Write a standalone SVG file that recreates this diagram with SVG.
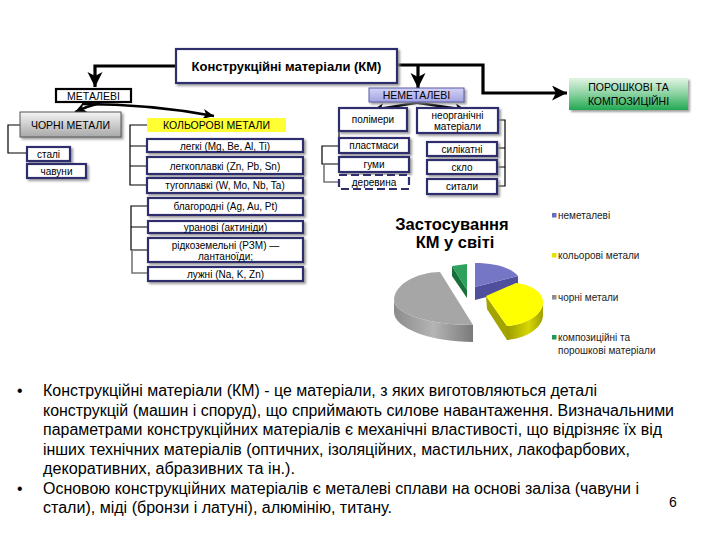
<svg xmlns="http://www.w3.org/2000/svg" width="720" height="540" viewBox="0 0 720 540">
<style>
text{font-family:"Liberation Sans",Arial,sans-serif;fill:#000}
.bx{fill:#fff;stroke:#2f2f6e;stroke-width:2.2}
.sm{font-size:10px;text-anchor:middle}
.cap{font-size:10.5px;text-anchor:middle}
.ln{fill:none;stroke:#000;stroke-width:1.2}
.gl{fill:none;stroke:#777;stroke-width:1.6}
.ar{fill:none;stroke:#000;stroke-width:3.2}
.ar2{fill:none;stroke:#000;stroke-width:2.4}
.body{font-size:15.8px}
.lg{font-size:10px;fill:#222}
</style>
<defs>
<filter id="sh" x="-10%" y="-20%" width="130%" height="160%"><feDropShadow dx="2" dy="2" stdDeviation="1" flood-color="#888" flood-opacity="0.8"/></filter>
<marker id="big" markerUnits="userSpaceOnUse" markerWidth="16" markerHeight="16" refX="15" refY="7.5" orient="auto"><path d="M0,0 L15,7.5 L0,15 L4,7.5 z" fill="#000"/></marker>
<marker id="sml" markerUnits="userSpaceOnUse" markerWidth="12" markerHeight="12" refX="11" refY="5" orient="auto"><path d="M0,0 L11,5 L0,10 L3,5 z" fill="#000"/></marker>
<linearGradient id="gGray" x1="0" y1="0" x2="0" y2="1"><stop offset="0" stop-color="#f4f4f4"/><stop offset="1" stop-color="#a8a8a8"/></linearGradient>
<linearGradient id="gLav" x1="0" y1="0" x2="0" y2="1"><stop offset="0" stop-color="#d4d4f6"/><stop offset="1" stop-color="#a2a2e2"/></linearGradient>
<linearGradient id="gGreen" x1="0" y1="0" x2="0" y2="1"><stop offset="0" stop-color="#e2f4e4"/><stop offset="0.5" stop-color="#8ad2a0"/><stop offset="1" stop-color="#22a852"/></linearGradient>
<linearGradient id="pGraySide" x1="0" y1="0" x2="1" y2="0"><stop offset="0" stop-color="#8c8c8c"/><stop offset="0.5" stop-color="#b4b4b4"/><stop offset="1" stop-color="#7a7a7a"/></linearGradient>
<linearGradient id="pYelSide" x1="0" y1="0" x2="1" y2="0"><stop offset="0" stop-color="#9c9c00"/><stop offset="0.6" stop-color="#d6d600"/><stop offset="1" stop-color="#a0a000"/></linearGradient>
</defs>

<g id="connectors">
<path class="ar" d="M176,66 H95 V87" marker-end="url(#big)"/>
<path class="ar" d="M397,65 H483 V93 H567" marker-end="url(#big)"/>
<path class="ar" d="M418,65 V88" marker-end="url(#big)"/>
<path class="ar2" d="M100,103 Q88,106 75,112" marker-end="url(#sml)"/>
<path class="ar2" d="M82,104 Q150,104 214,116" marker-end="url(#sml)"/>
<path class="ar2" d="M421,102 L373,110" marker-end="url(#sml)"/>
<path class="ar2" d="M412,102 L466,110" marker-end="url(#sml)"/>
<path class="ln" d="M20,125 H8 V153 H27"/>
<path class="ln" d="M147,125 H130 V185 H147 M130,146 H147 M130,166 H147"/>
<path class="ln" d="M148,206 H131 V250 H148 M131,227 H148"/>
<path class="gl" d="M132,250 V273 H148"/>
<path class="ln" d="M339,120 V139 M339,146 H322 V164 H339"/>
<path class="gl" d="M324,164 V182 H339"/>
<path class="ln" d="M498,120 H505 V186 H497 M505,148 H497 M505,167 H497"/>
</g>

<g id="main"><rect class="bx" x="176" y="49" width="221" height="34" filter="url(#sh)"/><text x="286.5" y="71" font-size="13" font-weight="bold" text-anchor="middle">Конструкційні матеріали (КМ)</text></g>
<g id="metalevi"><rect x="56" y="89" width="75" height="13" fill="#fff" stroke="#000" stroke-width="2.2"/><text class="cap" x="93.5" y="99.5">МЕТАЛЕВІ</text></g>
<g id="chorni"><rect x="20" y="112" width="101" height="25" fill="url(#gGray)" stroke="#555" stroke-width="1" filter="url(#sh)"/><text class="cap" x="70.5" y="128.5">ЧОРНІ МЕТАЛИ</text></g>
<g id="kolorovi"><rect x="147" y="118" width="139" height="14" fill="#ffff33"/><text class="cap" x="216.5" y="129">КОЛЬОРОВІ МЕТАЛИ</text></g>
<g id="stali"><rect class="bx" x="27" y="147" width="43" height="14" filter="url(#sh)"/><text class="sm" x="48.5" y="158">сталі</text></g>
<g id="chavuny"><rect class="bx" x="27" y="164" width="59" height="14" filter="url(#sh)"/><text class="sm" x="56.5" y="175">чавуни</text></g>
<g id="legki"><rect class="bx" x="147" y="139" width="156" height="13" filter="url(#sh)"/><text class="sm" x="225" y="149.5">легкі (Mg, Be, Al, Ti)</text></g>
<g id="legkoplavki"><rect class="bx" x="147" y="157" width="156" height="17" filter="url(#sh)"/><text class="sm" x="225" y="169.5">легкоплавкі (Zn, Pb, Sn)</text></g>
<g id="tugoplavki"><rect class="bx" x="147" y="178" width="156" height="15" filter="url(#sh)"/><text class="sm" x="225" y="189">тугоплавкі (W, Mo, Nb, Ta)</text></g>
<g id="blagorodni"><rect class="bx" x="148" y="198" width="155" height="17" filter="url(#sh)"/><text class="sm" x="225.5" y="210">благородні (Ag, Au, Pt)</text></g>
<g id="uranovi"><rect class="bx" x="148" y="221" width="155" height="12" filter="url(#sh)"/><text class="sm" x="225.5" y="231">уранові (актиніди)</text></g>
<g id="ridkozemelni"><rect class="bx" x="148" y="238" width="155" height="24" filter="url(#sh)"/><text class="sm" x="225.5" y="248.5">рідкоземельні (РЗМ) —</text><text class="sm" x="225.5" y="260">лантаноїди;</text></g>
<g id="luzhni"><rect class="bx" x="148" y="267" width="155" height="14" filter="url(#sh)"/><text class="sm" x="225.5" y="278">лужні (Na, K, Zn)</text></g>

<g id="nemetalevi"><rect x="369" y="88" width="95" height="14" fill="url(#gLav)" stroke="#5a5aa8" stroke-width="1" filter="url(#sh)"/><text class="cap" x="416.5" y="99">НЕМЕТАЛЕВІ</text></g>
<g id="poroshkovi"><rect x="569" y="78" width="119" height="32" fill="url(#gGreen)" filter="url(#sh)"/><text class="cap" x="628.5" y="91">ПОРОШКОВІ ТА</text><text class="cap" x="628.5" y="105">КОМПОЗИЦІЙНІ</text></g>
<g id="polimery"><rect class="bx" x="339" y="108" width="68" height="23" filter="url(#sh)"/><text class="sm" x="373" y="123">полімери</text></g>
<g id="neorganichni"><rect class="bx" x="417" y="108" width="81" height="25" filter="url(#sh)"/><text class="sm" x="457.5" y="119">неорганічні</text><text class="sm" x="457.5" y="130">матеріали</text></g>
<g id="plastmasy"><rect class="bx" x="339" y="138" width="70" height="15" filter="url(#sh)"/><text class="sm" x="374" y="149">пластмаси</text></g>
<g id="gumy"><rect class="bx" x="339" y="157" width="70" height="15" filter="url(#sh)"/><text class="sm" x="374" y="168">гуми</text></g>
<g id="derevyna"><rect x="339" y="175" width="70" height="14" fill="#fff" stroke="#2f2f6e" stroke-width="2.2" stroke-dasharray="8,4"/><text class="sm" x="374" y="186">деревина</text></g>
<g id="sylikatni"><rect class="bx" x="427" y="142" width="70" height="14" filter="url(#sh)"/><text class="sm" x="462" y="153">силікатні</text></g>
<g id="sklo"><rect class="bx" x="427" y="160" width="70" height="14" filter="url(#sh)"/><text class="sm" x="462" y="171">скло</text></g>
<g id="sytaly"><rect class="bx" x="427" y="179" width="70" height="15" filter="url(#sh)"/><text class="sm" x="462" y="190">ситали</text></g>

<g id="chart">
<text x="452" y="230" font-size="16.5" font-weight="bold" text-anchor="middle">Застосування</text>
<text x="455" y="248" font-size="16.5" font-weight="bold" text-anchor="middle">КМ у світі</text>
<path d="M394,300 L394,312 C394,328 430,342 473,342 L473,325 C430,325 394,314 394,300 Z" fill="url(#pGraySide)"/>
<path d="M440,272 L473,325 C430,325 394,314 394,300 C394,284 418,272 440,272 Z" fill="#a6a6a6"/>
<path d="M452,266 L467,290 L467,298 L452,276 Z" fill="#17703a"/>
<path d="M452,266 L467,264 L467,290 Z" fill="#2ea25c"/>
<path d="M475,287 L518,276 L518,289 L475,300 Z" fill="#4f4f9e"/>
<path d="M475,287 L475,263 C494,263 510,267 518,276 Z" fill="#7676c6"/>
<path d="M486,296 L507,326 L507,340 L487,309 Z" fill="#a4a400"/>
<path d="M543,302 L543,315 C543,327 528,338 507,340 L507,326 C528,324 543,314 543,302 Z" fill="url(#pYelSide)"/>
<path d="M486,296 L516,283 C533,285 543,293 543,302 C543,314 528,324 507,326 Z" fill="#ffff00"/>
<rect x="552" y="213" width="4.5" height="4.5" fill="#6a6abf"/><text class="lg" x="558" y="218.5">неметалеві</text>
<rect x="552" y="253" width="4.5" height="4.5" fill="#e4e400"/><text class="lg" x="558" y="258.5">кольорові метали</text>
<rect x="552" y="295" width="4.5" height="4.5" fill="#8e8e8e"/><text class="lg" x="558" y="300.5">чорні метали</text>
<rect x="552" y="335" width="4.5" height="4.5" fill="#1f9a58"/><text class="lg" x="558" y="340.5">композиційні та</text><text class="lg" x="558" y="353.5">порошкові матеріали</text>
</g>

<g id="body">
<text class="body" x="17" y="396">•</text>
<text class="body" x="43" y="396" textLength="554" lengthAdjust="spacingAndGlyphs">Конструкційні матеріали (КМ) - це матеріали, з яких виготовляються деталі</text>
<text class="body" x="43" y="415.5" textLength="631" lengthAdjust="spacingAndGlyphs">конструкцій (машин і споруд), що сприймають силове навантаження. Визначальними</text>
<text class="body" x="43" y="435" textLength="619" lengthAdjust="spacingAndGlyphs">параметрами конструкційних матеріалів є механічні властивості, що відрізняє їх від</text>
<text class="body" x="43" y="454.5" textLength="587" lengthAdjust="spacingAndGlyphs">інших технічних матеріалів (оптичних, ізоляційних, мастильних, лакофарбових,</text>
<text class="body" x="43" y="474" textLength="252" lengthAdjust="spacingAndGlyphs">декоративних, абразивних та ін.).</text>
<text class="body" x="17" y="493.5">•</text>
<text class="body" x="43" y="493.5" textLength="596" lengthAdjust="spacingAndGlyphs">Основою конструкційних матеріалів є металеві сплави на основі заліза (чавуни і</text>
<text class="body" x="43" y="513" textLength="349" lengthAdjust="spacingAndGlyphs">стали), міді (бронзи і латуні), алюмінію, титану.</text>
<text x="669" y="507" font-size="14">6</text>
</g>
</svg>
